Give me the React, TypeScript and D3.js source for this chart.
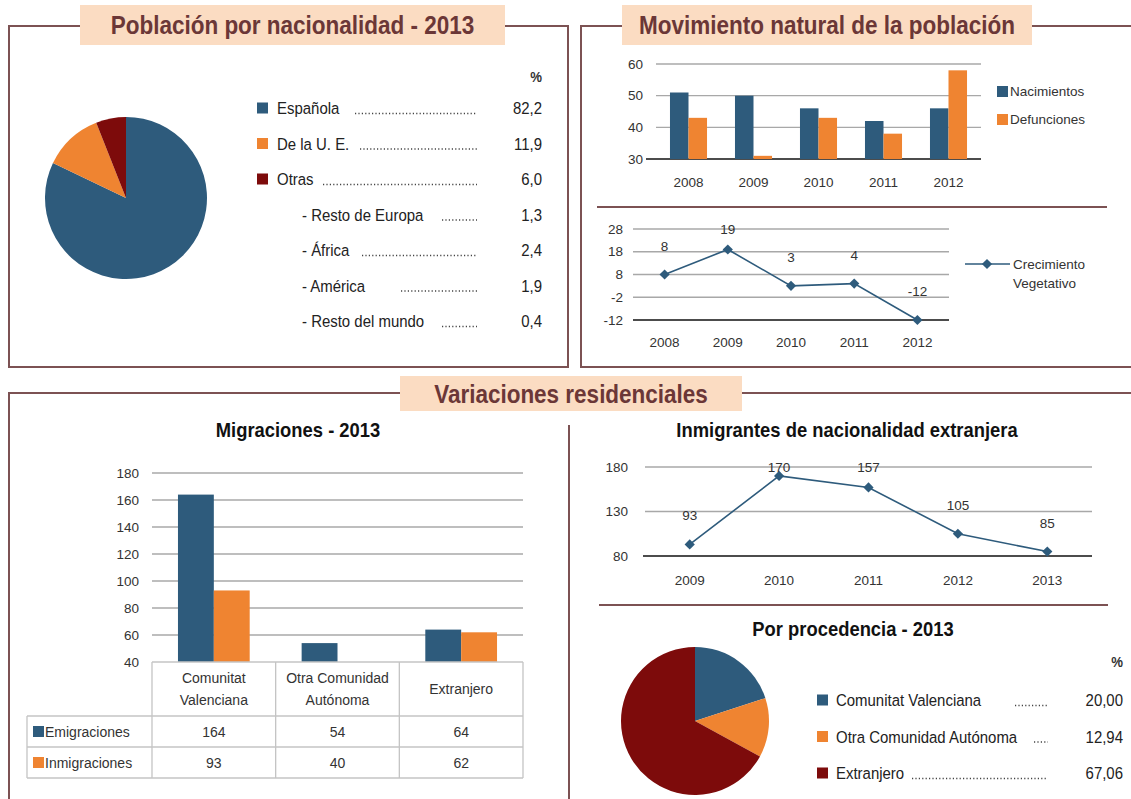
import * as d3 from "d3"

// palette
const BLUE = "#2e5b7c"
const ORANGE = "#ef8431"
const DARK_RED = "#7d0b0b"
const BORDER = "#7c5253"
const PEACH = "#fbdcc2"
const TITLE_INK = "#6b3737"
const GRID = "#a8a8a8"
const INK = "#333"

const SANS = "'Liberation Sans', Arial, sans-serif"

// Población por nacionalidad - 2013
const nationalityLabels = ["Española", "De la U. E.", "Otras"]
const nationalityValues = [82.2, 11.9, 6.0]
const otherLabels = ["- Resto de Europa", "- África", "- América", "- Resto del mundo"]
const otherValues = [1.3, 2.4, 1.9, 0.4]

// Movimiento natural de la población
const naturalYears = ["2008", "2009", "2010", "2011", "2012"]
const nacimientos = [51, 50, 46, 42, 46]
const defunciones = [43, 31, 43, 38, 58]
const naturalTicks = [30, 40, 50, 60]
const crecimiento = [8, 19, 3, 4, -12]
const crecimientoTicks = [-12, -2, 8, 18, 28]

// Migraciones - 2013
const migCategories = ["Comunitat Valenciana", "Otra Comunidad Autónoma", "Extranjero"]
const migHeaderLines = [["Comunitat", "Valenciana"], ["Otra Comunidad", "Autónoma"], ["Extranjero"]]
const emigraciones = [164, 54, 64]
const inmigraciones = [93, 40, 62]
const migTicks = [40, 60, 80, 100, 120, 140, 160, 180]

// Inmigrantes de nacionalidad extranjera
const inmYears = ["2009", "2010", "2011", "2012", "2013"]
const inmigrantes = [93, 170, 157, 105, 85]
const inmTicks = [80, 130, 180]

// Por procedencia - 2013
const procLabels = ["Comunitat Valenciana", "Otra Comunidad Autónoma", "Extranjero"]
const procValues = [20.0, 12.94, 67.06]

const comma = (v: number, d: number) => v.toFixed(d).replace(".", ",")

// no narrow font installed, so squeeze a regular one
function Narrow({ x, y, sx = 0.88, children, ...rest }: any) {
  return (
    <text transform={`translate(${x},${y}) scale(${sx},1)`} {...rest}>
      {children}
    </text>
  )
}

function Frame({ x, y, w, h, bx, by, bw, bh, title }: { x: number; y: number; w: number; h: number; bx: number; by: number; bw: number; bh: number; title: string }) {
  return (
    <g>
      <rect x={x} y={y} width={w} height={h} fill="none" stroke={BORDER} strokeWidth={2} />
      <rect x={bx} y={by} width={bw} height={bh} fill={PEACH} />
      <Narrow x={bx + bw / 2} y={by + bh / 2 + 9} sx={0.9} textAnchor="middle" fontWeight="bold" fontSize={25} fill={TITLE_INK}>
        {title}
      </Narrow>
    </g>
  )
}

function Diamond({ x, y }: { x: number; y: number }) {
  const sq = d3.symbol(d3.symbolSquare, 52)() as string
  return <path d={sq} transform={`translate(${x},${y}) rotate(45)`} fill={BLUE} />
}

function NationalityPanel() {
  const pie = d3.pie<number>().sort(null).value((d) => d)
  const arc = d3.arc<d3.PieArcDatum<number>>().innerRadius(0).outerRadius(81)
  const colors = [BLUE, ORANGE, DARK_RED]
  const rowY = (i: number) => 108 + i * 35.5
  const leaderStart = [355, 360, 323, 442, 362, 401, 442]
  const rows = [
    ...nationalityLabels.map((l, i) => ({ label: l, value: nationalityValues[i], color: colors[i], indent: false })),
    ...otherLabels.map((l, i) => ({ label: l, value: otherValues[i], color: "", indent: true })),
  ]
  return (
    <g>
      <Frame x={9} y={26} w={559} h={341} bx={80} by={5} bw={425} bh={40} title="Población por nacionalidad - 2013" />
      <g transform="translate(126,198)">
        {pie(nationalityValues).map((a, i) => (
          <path key={i} d={arc(a) as string} fill={colors[i]} />
        ))}
      </g>
      <Narrow x={542} y={82} textAnchor="end" fontWeight="bold" fontSize={15} fill={INK}>%</Narrow>
      {rows.map((r, i) => (
        <g key={i} fill="#222">
          {!r.indent && <rect x={257} y={rowY(i) - 5.5} width={11} height={11} fill={r.color} />}
          <Narrow x={r.indent ? 302 : 277} y={rowY(i) + 6} fontSize={17}>{r.label}</Narrow>
          <line x1={leaderStart[i]} x2={477} y1={rowY(i) + 5.5} y2={rowY(i) + 5.5} stroke="#444" strokeWidth={1.3} strokeDasharray="1.2 2.2" />
          <Narrow x={542} y={rowY(i) + 6} fontSize={17} textAnchor="end">{comma(r.value, 1)}</Narrow>
        </g>
      ))}
    </g>
  )
}

function NaturalPanel() {
  // bar chart
  const x = d3.scaleBand().domain(naturalYears).range([656, 981]).paddingInner(0.43).paddingOuter(0.215)
  const sub = d3.scaleBand().domain(["n", "d"]).range([0, x.bandwidth()])
  const y = d3.scaleLinear().domain([30, 60]).range([159, 64])

  // line chart
  const xp = d3.scalePoint().domain(naturalYears).range([633, 949]).padding(0.5)
  const yg = d3.scaleLinear().domain([-12, 28]).range([320, 229])
  const line = d3
    .line<number>()
    .x((_, i) => xp(naturalYears[i]) as number)
    .y((d) => yg(d))

  return (
    <g fontSize={13.5} fill={INK}>
      <Frame x={581} y={26} w={600} h={341} bx={622} by={5} bw={410} bh={40} title="Movimiento natural de la población" />

      {naturalTicks.map((t) => (
        <g key={t}>
          <line x1={t === 30 ? 646 : 656} x2={981} y1={y(t)} y2={y(t)} stroke={t === 30 ? "#111" : GRID} strokeWidth={t === 30 ? 1.6 : 1.3} />
          <text x={643} y={y(t) + 4.5} textAnchor="end">{t}</text>
        </g>
      ))}
      {naturalYears.map((yr, i) => (
        <g key={yr}>
          <rect x={(x(yr) as number) + (sub("n") as number)} y={y(nacimientos[i])} width={sub.bandwidth()} height={y(30) - y(nacimientos[i])} fill={BLUE} />
          <rect x={(x(yr) as number) + (sub("d") as number)} y={y(defunciones[i])} width={sub.bandwidth()} height={y(30) - y(defunciones[i])} fill={ORANGE} />
          <text x={(x(yr) as number) + x.bandwidth() / 2} y={187} textAnchor="middle">{yr}</text>
        </g>
      ))}
      <rect x={997} y={86} width={11} height={11} fill={BLUE} />
      <text x={1010} y={96}>Nacimientos</text>
      <rect x={997} y={114} width={11} height={11} fill={ORANGE} />
      <text x={1010} y={124}>Defunciones</text>

      <line x1={597} x2={1107} y1={207} y2={207} stroke={BORDER} strokeWidth={2} />

      {crecimientoTicks.map((t) => (
        <g key={t}>
          <line x1={633} x2={949} y1={yg(t)} y2={yg(t)} stroke={t === -12 ? "#111" : GRID} strokeWidth={t === -12 ? 1.6 : 1.3} />
          <text x={623} y={yg(t) + 4.5} textAnchor="end">{t}</text>
        </g>
      ))}
      <path d={line(crecimiento) as string} fill="none" stroke={BLUE} strokeWidth={1.6} />
      {crecimiento.map((v, i) => (
        <g key={i}>
          <Diamond x={xp(naturalYears[i]) as number} y={yg(v)} />
          <text x={xp(naturalYears[i]) as number} y={Math.max(yg(v) - 29, yg(28)) + 5} textAnchor="middle">{v}</text>
        </g>
      ))}
      {naturalYears.map((yr) => (
        <text key={yr} x={xp(yr) as number} y={347} textAnchor="middle">{yr}</text>
      ))}
      <line x1={965} x2={1010} y1={264} y2={264} stroke={BLUE} strokeWidth={1.6} />
      <Diamond x={987} y={264} />
      <text x={1013} y={269}>Crecimiento</text>
      <text x={1013} y={288}>Vegetativo</text>
    </g>
  )
}

function ResidentialPanel() {
  // Migraciones
  const xm = d3.scaleBand().domain(migCategories).range([152, 523]).paddingInner(0.42).paddingOuter(0.21)
  const subm = d3.scaleBand().domain(["e", "i"]).range([0, xm.bandwidth()])
  const ym = d3.scaleLinear().domain([40, 180]).range([662, 473])
  const tableTop = ym(40)
  const headBottom = 716
  const rowH = 31
  const tableLeft = 27
  const colEdges = d3.range(migCategories.length + 1).map((i) => 152 + i * xm.step())

  // Inmigrantes
  const xi = d3.scalePoint().domain(inmYears).range([645, 1092]).padding(0.5)
  const yi = d3.scaleLinear().domain([80, 180]).range([556, 467])
  const line = d3
    .line<number>()
    .x((_, i) => xi(inmYears[i]) as number)
    .y((d) => yi(d))

  // Por procedencia
  const pie = d3.pie<number>().sort(null).value((d) => d)
  const arc = d3.arc<d3.PieArcDatum<number>>().innerRadius(0).outerRadius(74)
  const procColors = [BLUE, ORANGE, DARK_RED]
  const procLeader = [1015, 1034, 912]
  const procY = (i: number) => 700 + i * 36.5

  return (
    <g fontSize={13.5} fill={INK}>
      <Frame x={9} y={393} w={1200} h={500} bx={400} by={376} bw={342} bh={35} title="Variaciones residenciales" />
      <line x1={569} x2={569} y1={425} y2={799} stroke={BORDER} strokeWidth={2} />

      {/* Migraciones */}
      <Narrow x={298} y={437} sx={0.92} textAnchor="middle" fontWeight="bold" fontSize={20} fill="#111">Migraciones - 2013</Narrow>
      {migTicks.map((t) => (
        <g key={t}>
          {t > 40 && <line x1={152} x2={523} y1={ym(t)} y2={ym(t)} stroke={GRID} strokeWidth={1.3} />}
          <text x={139} y={ym(t) + 4.5} textAnchor="end">{t}</text>
        </g>
      ))}
      {migCategories.map((c, i) => (
        <g key={c}>
          <rect x={(xm(c) as number) + (subm("e") as number)} y={ym(emigraciones[i])} width={subm.bandwidth()} height={ym(40) - ym(emigraciones[i])} fill={BLUE} />
          <rect x={(xm(c) as number) + (subm("i") as number)} y={ym(inmigraciones[i])} width={subm.bandwidth()} height={ym(40) - ym(inmigraciones[i])} fill={ORANGE} />
        </g>
      ))}
      <g stroke="#c4c4c4" strokeWidth={1.3}>
        <line x1={colEdges[0]} x2={colEdges[3]} y1={tableTop} y2={tableTop} />
        {[headBottom, headBottom + rowH, headBottom + 2 * rowH].map((yy) => (
          <line key={yy} x1={tableLeft} x2={colEdges[3]} y1={yy} y2={yy} />
        ))}
        {colEdges.map((cx) => (
          <line key={cx} x1={cx} x2={cx} y1={tableTop} y2={headBottom + 2 * rowH} />
        ))}
        <line x1={tableLeft} x2={tableLeft} y1={headBottom} y2={headBottom + 2 * rowH} />
      </g>
      <g fontSize={14}>
        {migHeaderLines.map((lines, i) => (
          <g key={i}>
            {lines.map((l, j) => (
              <text key={j} x={colEdges[i] + xm.step() / 2} y={(tableTop + headBottom) / 2 + 5 + (j - (lines.length - 1) / 2) * 22} textAnchor="middle">{l}</text>
            ))}
            <text x={colEdges[i] + xm.step() / 2} y={headBottom + rowH / 2 + 5} textAnchor="middle">{emigraciones[i]}</text>
            <text x={colEdges[i] + xm.step() / 2} y={headBottom + rowH * 1.5 + 5} textAnchor="middle">{inmigraciones[i]}</text>
          </g>
        ))}
        <rect x={33} y={headBottom + rowH / 2 - 5.5} width={11} height={11} fill={BLUE} />
        <text x={45} y={headBottom + rowH / 2 + 5}>Emigraciones</text>
        <rect x={33} y={headBottom + rowH * 1.5 - 5.5} width={11} height={11} fill={ORANGE} />
        <text x={45} y={headBottom + rowH * 1.5 + 5}>Inmigraciones</text>
      </g>

      {/* Inmigrantes de nacionalidad extranjera */}
      <Narrow x={847} y={437} sx={0.92} textAnchor="middle" fontWeight="bold" fontSize={20} fill="#111">Inmigrantes de nacionalidad extranjera</Narrow>
      {inmTicks.map((t) => (
        <g key={t}>
          <line x1={t === 80 ? 643 : 645} x2={1092} y1={yi(t)} y2={yi(t)} stroke={t === 80 ? "#111" : GRID} strokeWidth={t === 80 ? 1.6 : 1.3} />
          <text x={628} y={yi(t) + 4.5} textAnchor="end">{t}</text>
        </g>
      ))}
      <path d={line(inmigrantes) as string} fill="none" stroke={BLUE} strokeWidth={1.6} />
      {inmigrantes.map((v, i) => (
        <g key={i}>
          <Diamond x={xi(inmYears[i]) as number} y={yi(v)} />
          <text x={xi(inmYears[i]) as number} y={Math.max(yi(v) - 29, yi(180)) + 5} textAnchor="middle">{v}</text>
        </g>
      ))}
      {inmYears.map((yr) => (
        <text key={yr} x={xi(yr) as number} y={585} textAnchor="middle">{yr}</text>
      ))}

      <line x1={599} x2={1108} y1={605} y2={605} stroke={BORDER} strokeWidth={2} />

      {/* Por procedencia - 2013 */}
      <Narrow x={853} y={636} sx={0.92} textAnchor="middle" fontWeight="bold" fontSize={20} fill="#111">Por procedencia - 2013</Narrow>
      <g transform="translate(695,721)">
        {pie(procValues).map((a, i) => (
          <path key={i} d={arc(a) as string} fill={procColors[i]} />
        ))}
      </g>
      <Narrow x={1123} y={667} textAnchor="end" fontWeight="bold" fontSize={15}>%</Narrow>
      {procLabels.map((l, i) => (
        <g key={l} fill="#222">
          <rect x={817} y={procY(i) - 5.5} width={11} height={11} fill={procColors[i]} />
          <Narrow x={836} y={procY(i) + 6} fontSize={17}>{l}</Narrow>
          <line x1={procLeader[i]} x2={1048} y1={procY(i) + 5.5} y2={procY(i) + 5.5} stroke="#444" strokeWidth={1.3} strokeDasharray="1.2 2.2" />
          <Narrow x={1123} y={procY(i) + 6} fontSize={17} textAnchor="end">{comma(procValues[i], 2)}</Narrow>
        </g>
      ))}
    </g>
  )
}

export default function App() {
  return (
    <svg width={1131} height={799} style={{ position: "absolute", left: 0, top: 0, background: "#fff" }} fontFamily={SANS}>
      <NationalityPanel />
      <NaturalPanel />
      <ResidentialPanel />
    </svg>
  )
}
